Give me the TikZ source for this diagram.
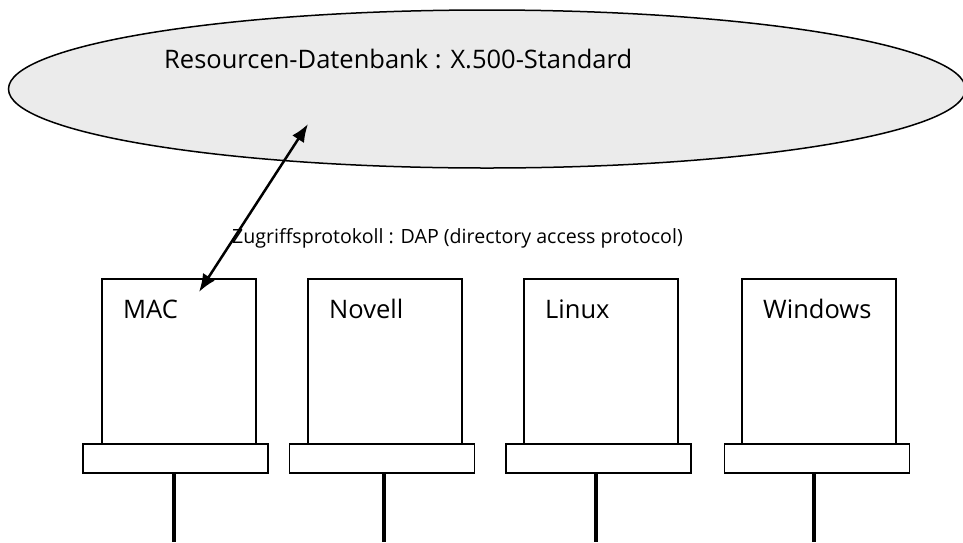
\documentclass[tikz,border=0pt]{standalone}
\usepackage{fontspec}
\setmainfont{Open Sans}
\usetikzlibrary{shapes.geometric,arrows.meta}
\definecolor{dbgray}{HTML}{EBEBEB}
\tikzset{
  pc/.style={draw, line width=1.5pt, minimum width=154pt, minimum height=165pt, inner sep=0pt},
  pcbase/.style={draw, line width=1.5pt, minimum width=185pt, minimum height=29pt, inner sep=0pt, fill=white},
  cable/.style={line width=4.5pt},
  lbl/.style={anchor=base west, inner sep=0pt, font=\fontsize{25.5}{30}\selectfont},
  txt/.style={anchor=base west, inner sep=0pt, font=\fontsize{19.6}{24}\selectfont},
  bigtxt/.style={anchor=base west, inner sep=0pt, font=\fontsize{25.5}{30}\selectfont},
  link/.style={line width=2.5pt, {Latex[length=18pt,width=14pt]}-{Latex[length=18pt,width=14pt]}}
}
\begin{document}
\begin{tikzpicture}[x=1pt,y=-1pt]
\useasboundingbox (0,0) rectangle (963,542);
\node[ellipse, draw, line width=1.5pt, fill=dbgray, minimum width=957pt, minimum height=158pt, inner sep=0pt] (db) at (487,89) {};
\node[bigtxt] (dbt) at (164,68) {Resourcen-Datenbank : X.500-Standard};
\node[txt] (proto) at (232,243) {Zugriffsprotokoll : DAP (directory access protocol)};
% computers
\node[pc] (mac) at (179,361.5) {};
\node[pc] (nov) at (385,361.5) {};
\node[pc] (lin) at (601,361.5) {};
\node[pc] (win) at (819,361.5) {};
\node[pcbase] (macb) at (175.5,458.5) {};
\node[pcbase] (novb) at (382,458.5) {};
\node[pcbase] (linb) at (598.5,458.5) {};
\node[pcbase] (winb) at (817,458.5) {};
\node[lbl] (macl) at (123,318) {MAC};
\node[lbl] (novl) at (329,318) {Novell};
\node[lbl] (linl) at (545,318) {Linux};
\node[lbl] (winl) at (763,318) {Windows};
% cables
\coordinate (macc) at (174,542);
\coordinate (novc) at (384,542);
\coordinate (linc) at (596,542);
\coordinate (winc) at (814,542);
\draw[cable] (macb.south -| macc) -- (macc);
\draw[cable] (novb.south -| novc) -- (novc);
\draw[cable] (linb.south -| linc) -- (linc);
\draw[cable] (winb.south -| winc) -- (winc);
% access link
\coordinate (lt) at (308,124);
\coordinate (lb) at (199,292);
\draw[link] (lb) -- (lt);
\end{tikzpicture}
\end{document}
